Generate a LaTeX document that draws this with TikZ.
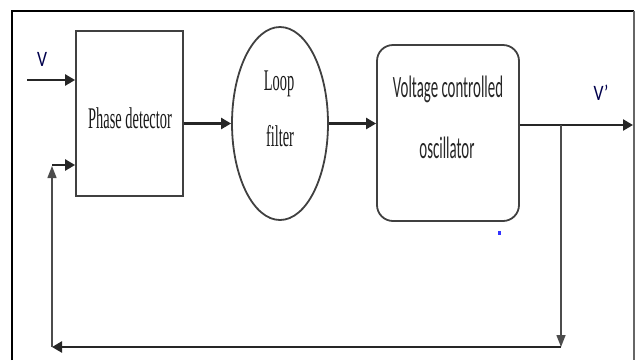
\documentclass[tikz,border=0pt]{standalone}
\usepackage{fontspec}
\setmainfont{Liberation Serif}
\newfontfamily\calibrifont{Carlito}
\usetikzlibrary{
    arrows.meta,
    shapes.geometric
}
\newcommand{\squeeze}[1]{\scalebox{0.48}[1]{#1}}
\newcommand{\squeezeV}[1]{\scalebox{0.8}[1]{#1}}

\begin{document}
\begin{tikzpicture}[x=1pt,y=-1pt,thick,
  block/.style={draw=black!75,line width=1.8pt,inner sep=0pt},
  sig/.style={draw=black!85,line width=2.4pt,-{Triangle[length=10pt,width=11pt]}},
  fb/.style={draw=black!70,line width=1.4pt,-{Triangle[length=12pt,width=9pt]}},
  sertext/.style={font=\fontsize{30}{30}\selectfont,inner sep=0pt,anchor=base,text=black!90},
  sanstext/.style={font=\calibrifont\fontsize{31}{31}\selectfont,inner sep=0pt,anchor=base,text=black!85},
  sigtext/.style={font=\calibrifont\fontsize{22}{22}\selectfont,inner sep=0pt,anchor=base,text=black!70!blue}]
\useasboundingbox (0,0) rectangle (635,360);
%\draw [help lines,step=50] (0,0) grid (635,360);
% frame
\draw [line width=2.8pt] (12,360) -- (12,11);
\draw [line width=2.2pt] (11,11) -- (634,11);
\draw [line width=1.4pt,black!60] (634,11) -- (634,360);
% blocks
\node [block,rectangle,minimum width=107pt,minimum height=165pt] (pd) at (129.5,113.5) {};
\node [block,ellipse,minimum width=96pt,minimum height=193pt] (lf) at (280,123.5) {};
\node [block,rectangle,rounded corners=16pt,minimum width=142pt,minimum height=176pt] (vco) at (448,133) {};
% texts
\node [sertext] (pdlabel) at (130,128) {\squeeze{Phase detector}};
\node [sertext] (lflabel1) at (279,90) {\squeeze{Loop}};
\node [sertext] (lflabel2) at (280,146) {\squeeze{filter}};
\node [sanstext] (vcolabel1) at (448,97) {\squeeze{Voltage controlled}};
\node [sanstext] (vcolabel2) at (447,158) {\squeeze{oscillator}};
\node [sigtext] (vlabel) at (42,66) {\squeezeV{V}};
\node [sigtext] (voutlabel) at (601,100) {\squeezeV{V’}};
% connectors
\coordinate (vin) at (27,80);
\coordinate (vout) at (633,125);
\coordinate (tap) at (561,125);
\coordinate (tapdown) at (561,347);
\coordinate (ret) at (52,347);
\coordinate (retbend) at (52,166);
\coordinate (retup) at (52,165);
\draw [sig] (vin) -- (vin -| pd.west);
\draw [sig] (pd.east |- lf.west) -- (lf.west);
\draw [sig] (lf.east) -- (lf.east -| vco.west);
\draw [sig] (vco.east |- tap) -- (vout);
\draw [fb] (tap) -- (tapdown);
\draw [sig,line width=2.8pt] (tapdown) -- (ret);
\draw [fb] (ret) -- (retbend);
\draw [sig] (retup) -- (retup -| pd.west);
% stray mark
\fill [blue!80] (498,230.5) rectangle (500.5,235);
\end{tikzpicture}
\end{document}
